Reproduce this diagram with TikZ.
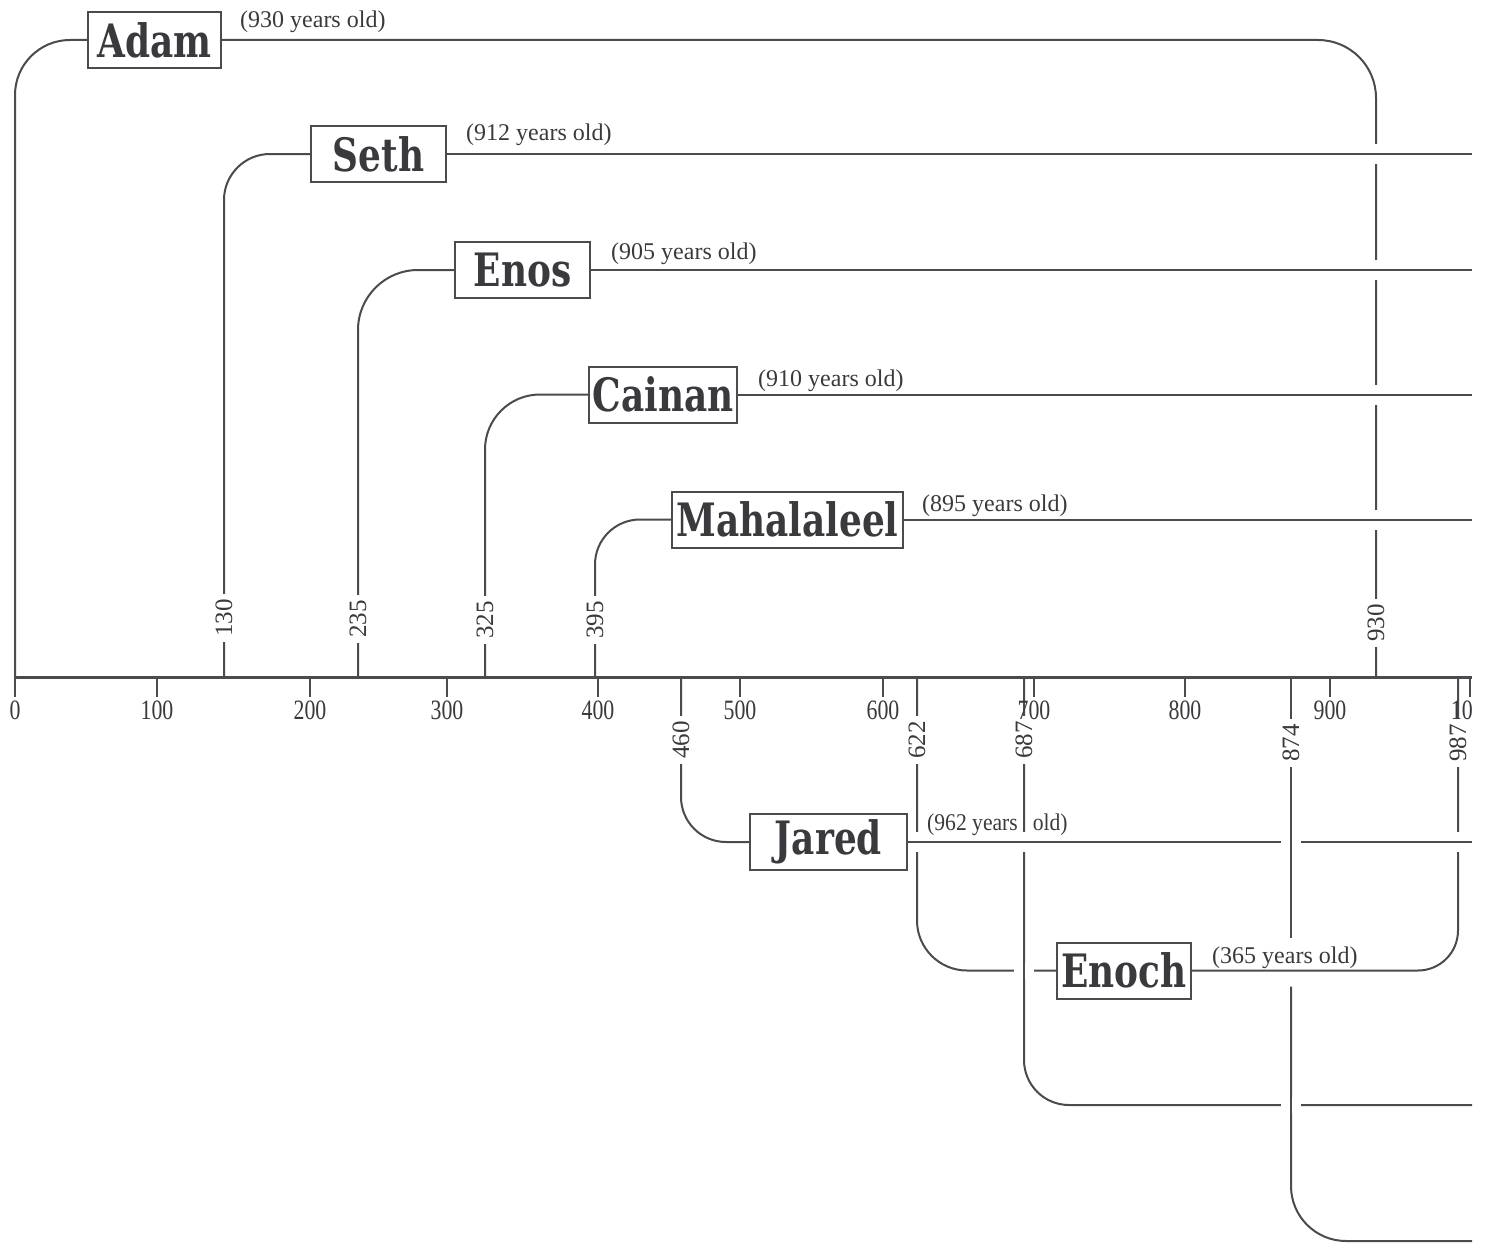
\documentclass[tikz,border=0pt]{standalone}
\usepackage{fontspec}
\setmainfont{Liberation Serif}
\newfontfamily\namefont[FakeStretch=0.78]{DejaVu Serif}
\newfontfamily\tickfont[FakeStretch=0.78]{Liberation Serif}
\newfontfamily\narrowfont[FakeStretch=0.9]{Liberation Serif}

\definecolor{ink}{HTML}{4A4A4F}
\definecolor{lettering}{HTML}{3A3A3E}

\tikzset{
  person/.style={draw=ink, line width=2pt, fill=white, minimum height=56pt, inner sep=0pt,
    text=lettering, font=\namefont\bfseries\fontsize{46}{46}\selectfont},
  lifeline/.style={draw=ink, line width=2pt},
  halo/.style={preaction={draw=white, line width=20pt}},
  age/.style={anchor=base west, inner sep=0pt, text=lettering, font=\fontsize{24}{24}\selectfont},
  yearmark/.style={fill=white, rotate=90, inner xsep=5pt, inner ysep=1pt, text=lettering,
    font=\fontsize{25}{25}\selectfont},
  ticklabel/.style={anchor=base, inner sep=0pt, text=lettering, font=\tickfont\fontsize{28}{28}\selectfont},
}

\begin{document}
\begin{tikzpicture}[x=1pt, y=-1pt]
\useasboundingbox (0,0) rectangle (1488,1244);

% points on the time axis
\coordinate (t0) at (15,677);
\coordinate (t130) at (224,677);
\coordinate (t235) at (358,677);
\coordinate (t325) at (485,677);
\coordinate (t395) at (595,677);
\coordinate (t460) at (681,677);
\coordinate (t622) at (917,677);
\coordinate (t687) at (1024,677);
\coordinate (t874) at (1291,677);
\coordinate (t930) at (1376,677);
\coordinate (t987) at (1458,677);
\coordinate (rim) at (1472,677);
\coordinate (methend) at (1472,1105);
\coordinate (lamend) at (1472,1241);

% the patriarchs
\node[person, minimum width=133pt] (adam) at (154.5,40) {Adam};
\node[person, minimum width=135pt] (seth) at (378.5,154) {Seth};
\node[person, minimum width=135pt] (enos) at (522.5,270) {Enos};
\node[person, minimum width=148pt] (cainan) at (663,394.5) {Cainan};
\node[person, minimum width=231pt] (mahal) at (787.5,519.5) {Mahalaleel};
\node[person, minimum width=157pt] (jared) at (828.5,842) {Jared};
\node[person, minimum width=134pt] (enoch) at (1124,970.5) {Enoch};

% life lines
\draw[lifeline, rounded corners=55pt] (t0) |- (adam.west);
\draw[lifeline, rounded corners=58pt] (adam.east) -| (t930);
\draw[lifeline, rounded corners=46pt] (t130) |- (seth.west);
\draw[lifeline] (seth.east) -- (seth.east -| rim);
\draw[lifeline, rounded corners=60pt] (t235) |- (enos.west);
\draw[lifeline] (enos.east) -- (enos.east -| rim);
\draw[lifeline, rounded corners=55pt] (t325) |- (cainan.west);
\draw[lifeline] (cainan.east) -- (cainan.east -| rim);
\draw[lifeline, rounded corners=45pt] (t395) |- (mahal.west);
\draw[lifeline] (mahal.east) -- (mahal.east -| rim);
\draw[lifeline, rounded corners=45pt] (t460) |- (jared.west);
\draw[lifeline] (jared.east) -- (jared.east -| rim);
\draw[lifeline, rounded corners=50pt] (t622) |- (enoch.west);
\draw[lifeline, rounded corners=40pt] (enoch.east) -| (t987);
\draw[lifeline, rounded corners=45pt] (t687) |- (methend);
\draw[lifeline] (t874) -- ([yshift=33pt]enoch.east -| t874);
\draw[lifeline, rounded corners=55pt] ([yshift=-16pt]enoch.east -| t874) |- (lamend);

% crossings
\foreach \p in {seth.east -| t930, enos.east -| t930, cainan.east -| t930, mahal.east -| t930,
                jared.east -| t622, jared.east -| t687, jared.east -| t987}
  \draw[lifeline, halo] ([xshift=-8pt]\p) -- ([xshift=8pt]\p);
\foreach \p in {jared.east -| t874, enoch.west -| t687, methend -| t874}
  \draw[lifeline, halo] ([yshift=8pt]\p) -- ([yshift=-8pt]\p);

% ages
\node[age] (adamage) at (240,28) {(930 years old)};
\node[age] (sethage) at (466,141) {(912 years old)};
\node[age] (enosage) at (611,259) {(905 years old)};
\node[age] (cainanage) at (758,386) {(910 years old)};
\node[age] (mahalage) at (922,511) {(895 years old)};
\node[age, font=\narrowfont\fontsize{24}{24}\selectfont] (jaredage) at (927,830) {(962 years\hspace{15pt}old)};
\node[age] (enochage) at (1212,963) {(365 years old)};

% years on the life lines
\node[yearmark] at (224,618) {130};
\node[yearmark] at (358,619) {235};
\node[yearmark] at (485,620) {325};
\node[yearmark] at (595,620) {395};
\node[yearmark] at (1376,623) {930};
\node[yearmark] at (681,740) {460};
\node[yearmark] at (917,740) {622};
\node[yearmark] at (1024,740) {687};
\node[yearmark] at (1291,743) {874};
\node[yearmark] at (1458,743) {987};

% time axis
\foreach \yr/\px in {0/15,100/157,200/310,300/447,400/598,500/740,600/883,700/1034,800/1185,900/1330}{
  \draw[ink, line width=1.2pt] (\px,677) -- (\px,697);
  \node[ticklabel] at (\px,719) {\yr};
}
\draw[ink, line width=1.2pt] (1470,677) -- (1470,697);
\node[ticklabel, anchor=base east] at (1473,719) {10};
\draw[ink, line width=3pt] (t0) -- (rim);
\end{tikzpicture}
\end{document}
